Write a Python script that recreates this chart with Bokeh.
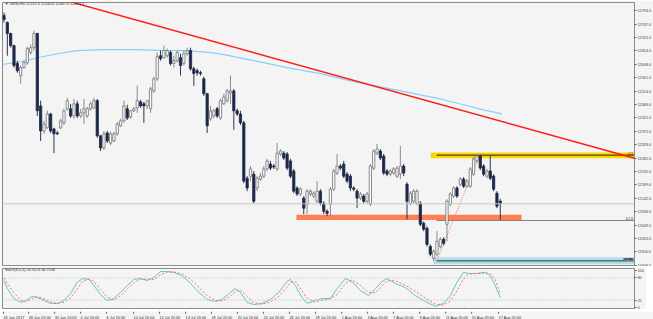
from bokeh.plotting import figure
from bokeh.models import ColumnDataSource, Range1d, FixedTicker, PrintfTickFormatter, Span, Label
from bokeh.layouts import column
from bokeh.embed import file_html
from bokeh.resources import INLINE
from bokeh.core.properties import value

# ---------------- data ----------------
symbol = "DE30,H4"

opens = [12777, 12752, 12714, 12672, 12610, 12568, 12596, 12613, 12648, 12665,
         12714, 12463, 12376, 12387, 12435, 12383, 12369, 12387, 12404, 12453,
         12453, 12428, 12470, 12428, 12439, 12428, 12453, 12456, 12481, 12359,
         12317, 12369, 12334, 12341, 12366, 12394, 12411, 12453, 12425, 12446,
         12456, 12477, 12470, 12463, 12453, 12515, 12557, 12637, 12630, 12637,
         12648, 12610, 12620, 12630, 12610, 12644, 12655, 12592, 12585, 12578,
         12557, 12505, 12418, 12428, 12453, 12421, 12470, 12481, 12508, 12515,
         12446, 12435, 12404, 12212, 12219, 12226, 12178, 12209, 12219, 12244,
         12261, 12254, 12244, 12296, 12299, 12296, 12272, 12237, 12178, 12157,
         12143, 12122, 12157, 12150, 12132, 12167, 12125, 12097, 12122, 12174,
         12230, 12254, 12261, 12226, 12219, 12178, 12167, 12143, 12150, 12132,
         12122, 12247, 12299, 12306, 12289, 12237, 12226, 12230, 12219, 12226,
         12254, 12191, 12125, 12132, 12125, 12125, 12056, 12038, 11975, 11934,
         11948, 11975, 12000, 12052, 12122, 12150, 12178, 12191, 12209, 12184,
         12184, 12226, 12272, 12289, 12254, 12219, 12237, 12219, 12160, 12132.3]

closes = [12763, 12714, 12672, 12603, 12585, 12596, 12613, 12662, 12665, 12714,
          12446, 12376, 12400, 12435, 12376, 12366, 12366, 12411, 12446, 12481,
          12428, 12470, 12428, 12439, 12453, 12453, 12470, 12481, 12359, 12317,
          12366, 12341, 12366, 12366, 12400, 12411, 12463, 12421, 12446, 12453,
          12481, 12463, 12463, 12481, 12522, 12557, 12634, 12627, 12655, 12655,
          12610, 12620, 12648, 12603, 12644, 12655, 12592, 12575, 12578, 12575,
          12505, 12394, 12446, 12446, 12428, 12481, 12494, 12515, 12515, 12446,
          12435, 12404, 12202, 12178, 12244, 12132, 12212, 12219, 12244, 12272,
          12247, 12251, 12299, 12306, 12282, 12247, 12219, 12167, 12157, 12174,
          12108, 12167, 12167, 12160, 12167, 12125, 12097, 12090, 12174, 12237,
          12254, 12247, 12219, 12202, 12178, 12174, 12143, 12157, 12132, 12157,
          12254, 12306, 12313, 12282, 12230, 12226, 12237, 12244, 12247, 12254,
          12230, 12132, 12160, 12167, 12167, 12052, 12035, 11982, 11948, 11958,
          11993, 12000, 11986, 12132, 12157, 12178, 12150, 12209, 12184, 12202,
          12244, 12279, 12289, 12247, 12226, 12237, 12212, 12174, 12115, 12123.1]

highs = [12787, 12756, 12717, 12676, 12620, 12603, 12620, 12669, 12676, 12724,
         12717, 12481, 12411, 12446, 12439, 12387, 12376, 12418, 12453, 12491,
         12470, 12487, 12481, 12453, 12487, 12460, 12477, 12491, 12487, 12362,
         12376, 12376, 12373, 12373, 12407, 12418, 12481, 12467, 12449, 12460,
         12533, 12484, 12477, 12484, 12529, 12564, 12648, 12655, 12672, 12662,
         12655, 12637, 12655, 12644, 12655, 12665, 12665, 12599, 12592, 12585,
         12564, 12508, 12463, 12453, 12460, 12487, 12505, 12522, 12568, 12522,
         12453, 12446, 12411, 12219, 12254, 12237, 12219, 12230, 12254, 12279,
         12272, 12261, 12334, 12313, 12306, 12303, 12279, 12244, 12184, 12181,
         12150, 12174, 12174, 12167, 12202, 12174, 12132, 12104, 12181, 12244,
         12296, 12261, 12272, 12233, 12226, 12184, 12174, 12164, 12157, 12164,
         12261, 12313, 12331, 12313, 12296, 12244, 12244, 12251, 12254, 12324,
         12261, 12198, 12167, 12174, 12174, 12132, 12062, 12045, 11982, 11965,
         12028, 12007, 12007, 12139, 12164, 12184, 12184, 12216, 12216, 12209,
         12251, 12286, 12292, 12292, 12261, 12244, 12289, 12226, 12167, 12140.6]

lows = [12752, 12637, 12665, 12596, 12578, 12540, 12592, 12606, 12641, 12655,
        12428, 12341, 12366, 12383, 12369, 12299, 12362, 12383, 12397, 12446,
        12421, 12418, 12421, 12421, 12400, 12421, 12446, 12453, 12352, 12306,
        12310, 12334, 12327, 12338, 12359, 12390, 12404, 12414, 12418, 12442,
        12439, 12456, 12404, 12453, 12439, 12508, 12550, 12620, 12627, 12630,
        12603, 12596, 12613, 12568, 12603, 12637, 12585, 12533, 12568, 12568,
        12498, 12369, 12411, 12421, 12421, 12414, 12467, 12474, 12470, 12380,
        12428, 12397, 12195, 12167, 12202, 12125, 12167, 12202, 12212, 12237,
        12240, 12244, 12237, 12289, 12275, 12240, 12212, 12160, 12150, 12150,
        12087, 12087, 12150, 12143, 12125, 12118, 12087, 12080, 12080, 12167,
        12223, 12240, 12212, 12195, 12167, 12167, 12108, 12136, 12125, 12125,
        12115, 12240, 12292, 12275, 12223, 12219, 12219, 12223, 12212, 12209,
        12219, 12069, 12118, 12125, 12118, 12045, 12028, 11975, 11941, 11925,
        11941, 11968, 11979, 11993, 12115, 12143, 12143, 12184, 12178, 12178,
        12178, 12219, 12265, 12240, 12219, 12212, 12205, 12167, 12108, 12067.6]

# moving average (bar index, price)
ma_x = [-1, 5, 10, 16, 22, 30, 40, 48, 55, 62, 66, 75, 85, 95, 104, 113, 122, 131, 138, 144, 149.5]
ma_y = [12606, 12616, 12630, 12644, 12655, 12658, 12658, 12655, 12655, 12648, 12641,
        12620, 12596, 12575, 12550, 12529, 12508, 12487, 12467, 12449, 12435]

# trend line (two anchors)
trend_x = [19.4, 189.3]
trend_y = [12826, 12281]

# rectangles: support, resistance, swing-low zone
zone_left = [87.8, 128.1, 129.0]
zone_right = [155.4, 190.0, 190.0]
zone_top = [12085, 12301, 11938]
zone_bottom = [12067, 12281, 11913]

# fibonacci retracement
fib_start = 129.9
fib_end = 190.0
fib_high = 12292
fib_low = 11925
fib_levels = [0.0, 61.8, 100.0]
fib_swing_x = [129.9, 142.8]

# price axis ticks
price_ticks = [12794, 12747, 12701, 12654, 12608, 12561, 12514, 12468, 12421, 12375,
               12328, 12282, 12235, 12189, 12142, 12096, 12049, 12003, 11956, 11909]

# stochastic (8,3,3)
stoch_x = [0, 1, 3, 5, 6.5, 8.5, 10, 12, 14, 16, 18, 20, 22, 23.5, 25.5, 27, 29, 31, 33, 35,
           37, 39, 41, 43, 45, 47, 49, 51, 53.5, 56, 58.5, 61, 63.5, 65.5, 68, 69.5, 71, 73, 75, 77.5,
           80, 82.5, 85, 86, 87.5, 89.5, 91, 93.5, 95.5, 98, 100, 102.5, 104.5, 107, 109.5, 111.5,
           113.5, 115, 117.5, 120.5, 123.5, 126.5, 129.5, 132, 134, 136, 138, 139.5, 142, 144.5,
           146, 147.5, 149]
stoch_main = [73, 51, 24, 14, 19, 30, 27, 19, 11, 11, 19, 38, 68, 78, 76, 59, 35, 19, 24, 41,
              59, 76, 78, 73, 81, 97, 97, 95, 86, 65, 41, 22, 16, 22, 41, 51, 41, 14, 8, 11,
              22, 41, 70, 76, 59, 27, 11, 19, 24, 24, 51, 78, 70, 46, 32, 51, 70, 78, 65, 54,
              32, 16, 3, 11, 32, 68, 95, 92, 92, 95, 86, 59, 26.3123]
stoch_signal = [80, 65, 40, 20, 15, 24, 29, 24, 15, 11, 14, 26, 50, 70, 77, 70, 48, 28, 20, 31,
                50, 67, 77, 76, 76, 88, 96, 96, 91, 76, 55, 32, 19, 18, 30, 44, 47, 30, 13, 9,
                15, 30, 55, 68, 70, 45, 25, 14, 20, 24, 35, 65, 74, 60, 40, 40, 58, 72, 72, 60,
                44, 25, 9, 6, 18, 45, 78, 90, 92, 93, 92, 75, 36.7536]
stoch_ticks = [0, 20, 80, 100]
stoch_levels = [80, 20]

# time axis labels
xtick_labels = ["26 Jun 2017", "28 Jun 20:00", "30 Jun 20:00", "4 Jul 20:00", "6 Jul 20:00",
                "10 Jul 20:00", "12 Jul 20:00", "14 Jul 20:00", "18 Jul 20:00", "20 Jul 20:00",
                "24 Jul 20:00", "26 Jul 20:00", "28 Jul 20:00", "1 Aug 20:00", "3 Aug 20:00",
                "7 Aug 20:00", "9 Aug 20:00", "11 Aug 20:00", "15 Aug 20:00", "17 Aug 20:00"]
xtick_pos = [-0.15, 7.4, 15.2, 23.0, 30.8, 38.9, 46.7, 54.5, 62.3, 70.1,
             77.9, 85.7, 93.5, 101.4, 109.1, 116.9, 124.8, 132.6, 140.4, 148.5]

assert len(opens) == len(closes) == len(highs) == len(lows)
assert len(stoch_x) == len(stoch_main) == len(stoch_signal)

# ---------------- styles ----------------
BG = "#f4f4f4"
FRAME = "#8c8c8c"
FONT = "Liberation Sans"
FS = "3.8px"
TXT = "#404040"

n = len(opens)
idx = list(range(n))
up = [c >= o for o, c in zip(opens, closes)]
src = ColumnDataSource(dict(
    x=idx, h=highs, l=lows,
    top=[max(o, c) for o, c in zip(opens, closes)],
    bot=[min(o, c) for o, c in zip(opens, closes)],
    fill=["#ffffff" if u else "#1c2848" for u in up],
    edge=["#707070" if u else "#1c2848" for u in up],
    wick=["#8a8a8a" if u else "#2c3654" for u in up],
))

xr = Range1d(-0.45, 189.3)

main = figure(frame_width=632, frame_height=264, x_range=xr,
              y_range=Range1d(11905.5, 12821.8), y_axis_location="right",
              output_backend="svg", toolbar_location=None,
              min_border_left=2, min_border_right=0, min_border_top=2, min_border_bottom=0,
              background_fill_color=BG, border_fill_color=BG, outline_line_color=FRAME)
main.xaxis.visible = False
main.grid.visible = False
ya = main.yaxis[0]
ya.ticker = FixedTicker(ticks=price_ticks)
ya.formatter = PrintfTickFormatter(format="%.1f")
ya.major_label_text_font = FONT
ya.major_label_text_font_size = FS
ya.major_label_text_color = TXT
ya.major_tick_out = 2
ya.major_tick_in = 0
ya.minor_tick_out = 0
ya.minor_tick_in = 0
ya.major_label_standoff = 1
ya.axis_line_color = FRAME
ya.major_tick_line_color = "#606060"

# zones
zone_colors = ["#ff7f50", "#ffd700", "#b0e0e6"]
main.quad(left=zone_left, right=zone_right, top=zone_top, bottom=zone_bottom,
          fill_color=zone_colors, line_color=None)

# fibonacci lines
fib_prices = [fib_high - (fib_high - fib_low) * lv / 100.0 for lv in fib_levels]
fib_colors = ["#202020", "#808080", "#1f3a4a"]
main.segment(x0=[fib_start] * 3, y0=fib_prices, x1=[fib_end] * 3, y1=fib_prices,
             line_color=fib_colors, line_width=1)
main.line(fib_swing_x, [fib_low, fib_high], line_color="#ff7a7a", line_width=1, line_dash="1 1")

# current price line
main.add_layout(Span(location=closes[-1], dimension="width", line_color="#c8c8c8", line_width=1))

# moving average and trendline
main.line(ma_x, ma_y, line_color="#87cefa", line_width=1.2)
main.line(trend_x, trend_y, line_color="#ff1a1a", line_width=1.5)

# candles
main.segment(x0="x", y0="l", x1="x", y1="h", line_color="wick", line_width=1, source=src)
main.vbar(x="x", width=0.68, top="top", bottom="bot", fill_color="fill", line_color="edge",
          line_width=0.8, source=src)

# fib labels
for lv, pr in zip(fib_levels, fib_prices):
    if lv == 100.0:
        main.add_layout(Label(x=188.9, y=pr, text=f"{lv:.1f}", text_align="right",
                              text_baseline="bottom", text_font=FONT, text_font_size=FS,
                              text_color="#ffffff", background_fill_color="#1a1a1a"))
    else:
        main.add_layout(Label(x=188.9, y=pr, text=f"{lv:.1f}", text_align="right",
                              text_baseline="bottom", text_font=FONT, text_font_size=FS,
                              text_color="#404040"))

# current price tag on the axis
main.add_layout(Label(x=189.55, y=closes[-1], text=f"{closes[-1]:.1f}", text_align="left",
                      text_baseline="middle", text_font=FONT, text_font_size=FS,
                      text_color="#ffffff", background_fill_color="#000000"))

# chart title
title = f"\u25bc {symbol}  {opens[-1]:.1f} {highs[-1]:.1f} {lows[-1]:.1f} {closes[-1]:.1f}"
main.text(x=[0.2], y=[12815], text=[title], text_font=value(FONT), text_font_size=FS,
          text_color="#303030", text_baseline="middle", text_align="left")

# ---------------- stochastic ----------------
st = figure(frame_width=632, frame_height=41, x_range=xr, y_range=Range1d(-5.4, 105.4),
            y_axis_location="right", output_backend="svg", toolbar_location=None,
            min_border_left=2, min_border_right=0, min_border_top=2, min_border_bottom=0,
            background_fill_color=BG, border_fill_color=BG, outline_line_color=FRAME)
st.xaxis.visible = False
st.grid.visible = False
sa = st.yaxis[0]
sa.ticker = FixedTicker(ticks=stoch_ticks)
sa.formatter = PrintfTickFormatter(format="%d")
sa.major_label_text_font = FONT
sa.major_label_text_font_size = FS
sa.major_label_text_color = TXT
sa.major_tick_out = 2
sa.major_tick_in = 0
sa.minor_tick_out = 0
sa.minor_tick_in = 0
sa.major_label_standoff = 1
sa.axis_line_color = FRAME
sa.major_tick_line_color = "#606060"
for lv in stoch_levels:
    st.add_layout(Span(location=lv, dimension="width", line_color="#b8b8b8",
                       line_width=1, line_dash="1 2"))
st.line(stoch_x, stoch_main, line_color="#5cc8bf", line_width=1)
st.line(stoch_x, stoch_signal, line_color="#ff6b6b", line_width=1, line_dash="2 2")
stoch_title = f"Stoch(8,3,3) {stoch_main[-1]:.4f} {stoch_signal[-1]:.4f}"
st.text(x=[0.2], y=[100], text=[stoch_title], text_font=value(FONT), text_font_size=FS,
        text_color="#303030", text_baseline="middle", text_align="left")

# ---------------- time labels strip ----------------
lab = figure(frame_width=632, frame_height=10, x_range=xr, y_range=Range1d(0, 1),
             x_axis_location=None, y_axis_location=None,
             output_backend="svg", toolbar_location=None,
             min_border_left=2, min_border_right=19, min_border_top=0, min_border_bottom=0,
             background_fill_color=BG, border_fill_color=BG, outline_line_color=None)
lab.grid.visible = False
lab.segment(x0=xtick_pos, y0=[0.78] * len(xtick_pos), x1=xtick_pos, y1=[1.0] * len(xtick_pos),
            line_color="#606060", line_width=1)
lab.text(x=xtick_pos, y=[0.38] * len(xtick_pos), text=xtick_labels, text_font=value(FONT),
         text_font_size=FS, text_color="#303030", text_baseline="middle", text_align="left")

layout = column(main, st, lab, spacing=0)
open("out.html", "w").write(file_html(layout, INLINE))
